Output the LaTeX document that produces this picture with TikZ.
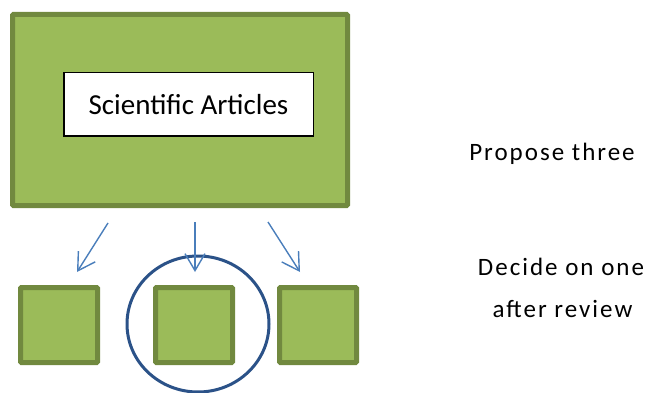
\documentclass[tikz,border=0pt]{standalone}
\usepackage{fontspec}
\setmainfont{Carlito}
\usetikzlibrary{arrows.meta,shapes.geometric}
\definecolor{olivefill}{HTML}{9BBB59}
\definecolor{olivedraw}{HTML}{71893F}
\definecolor{arrowblue}{HTML}{4A7EBB}
\definecolor{ringblue}{HTML}{2B5288}
\begin{document}
\begin{tikzpicture}[x=1pt,y=-1pt,
  greenbox/.style={draw=olivedraw,fill=olivefill,line width=5pt,rounded corners=1pt,inner sep=0pt},
  smallbox/.style={greenbox,minimum width=77pt,minimum height=75pt},
  labelbox/.style={draw=black,fill=white,line width=1.5pt,inner sep=0pt,minimum width=249.5pt,minimum height=63.5pt,font=\fontsize{29}{34}\selectfont},
  ring/.style={draw=ringblue,line width=3pt,ellipse,inner sep=0pt,minimum width=142pt,minimum height=136pt},
  flow/.style={draw=arrowblue,line width=1.4pt,-{Straight Barb[length=17pt,width=20pt,line width=1.4pt]}},
  note/.style={anchor=base,inner sep=0pt,font=\fontsize{25}{30}\selectfont\addfontfeature{LetterSpace=8}}]
\useasboundingbox (0,0) rectangle (648,393);
\node[greenbox,minimum width=335pt,minimum height=191pt] (src) at (180,110) {};
\node[labelbox] (lbl) at (188.5,104.5) {Scientific Articles};
\node[smallbox] (c1) at (59,325) {};
\node[smallbox] (c2) at (194,325) {};
\node[smallbox] (c3) at (318,325) {};
\node[ring] (pick) at (198,324) {};
\coordinate (s1) at (108,223);
\coordinate (e1) at (77,272);
\coordinate (s2) at (195,222);
\coordinate (e2) at (195,272);
\coordinate (s3) at (268,222);
\coordinate (e3) at (300,272);
\draw[flow] (s1) -- (e1);
\draw[flow] (s2) -- (e2);
\draw[flow] (s3) -- (e3);
\node[note] (t1) at (552,160.5) {Propose three};
\node[note] (t2) at (561,275) {Decide on one};
\node[note] (t3) at (562.5,317) {after review};
\end{tikzpicture}
\end{document}
